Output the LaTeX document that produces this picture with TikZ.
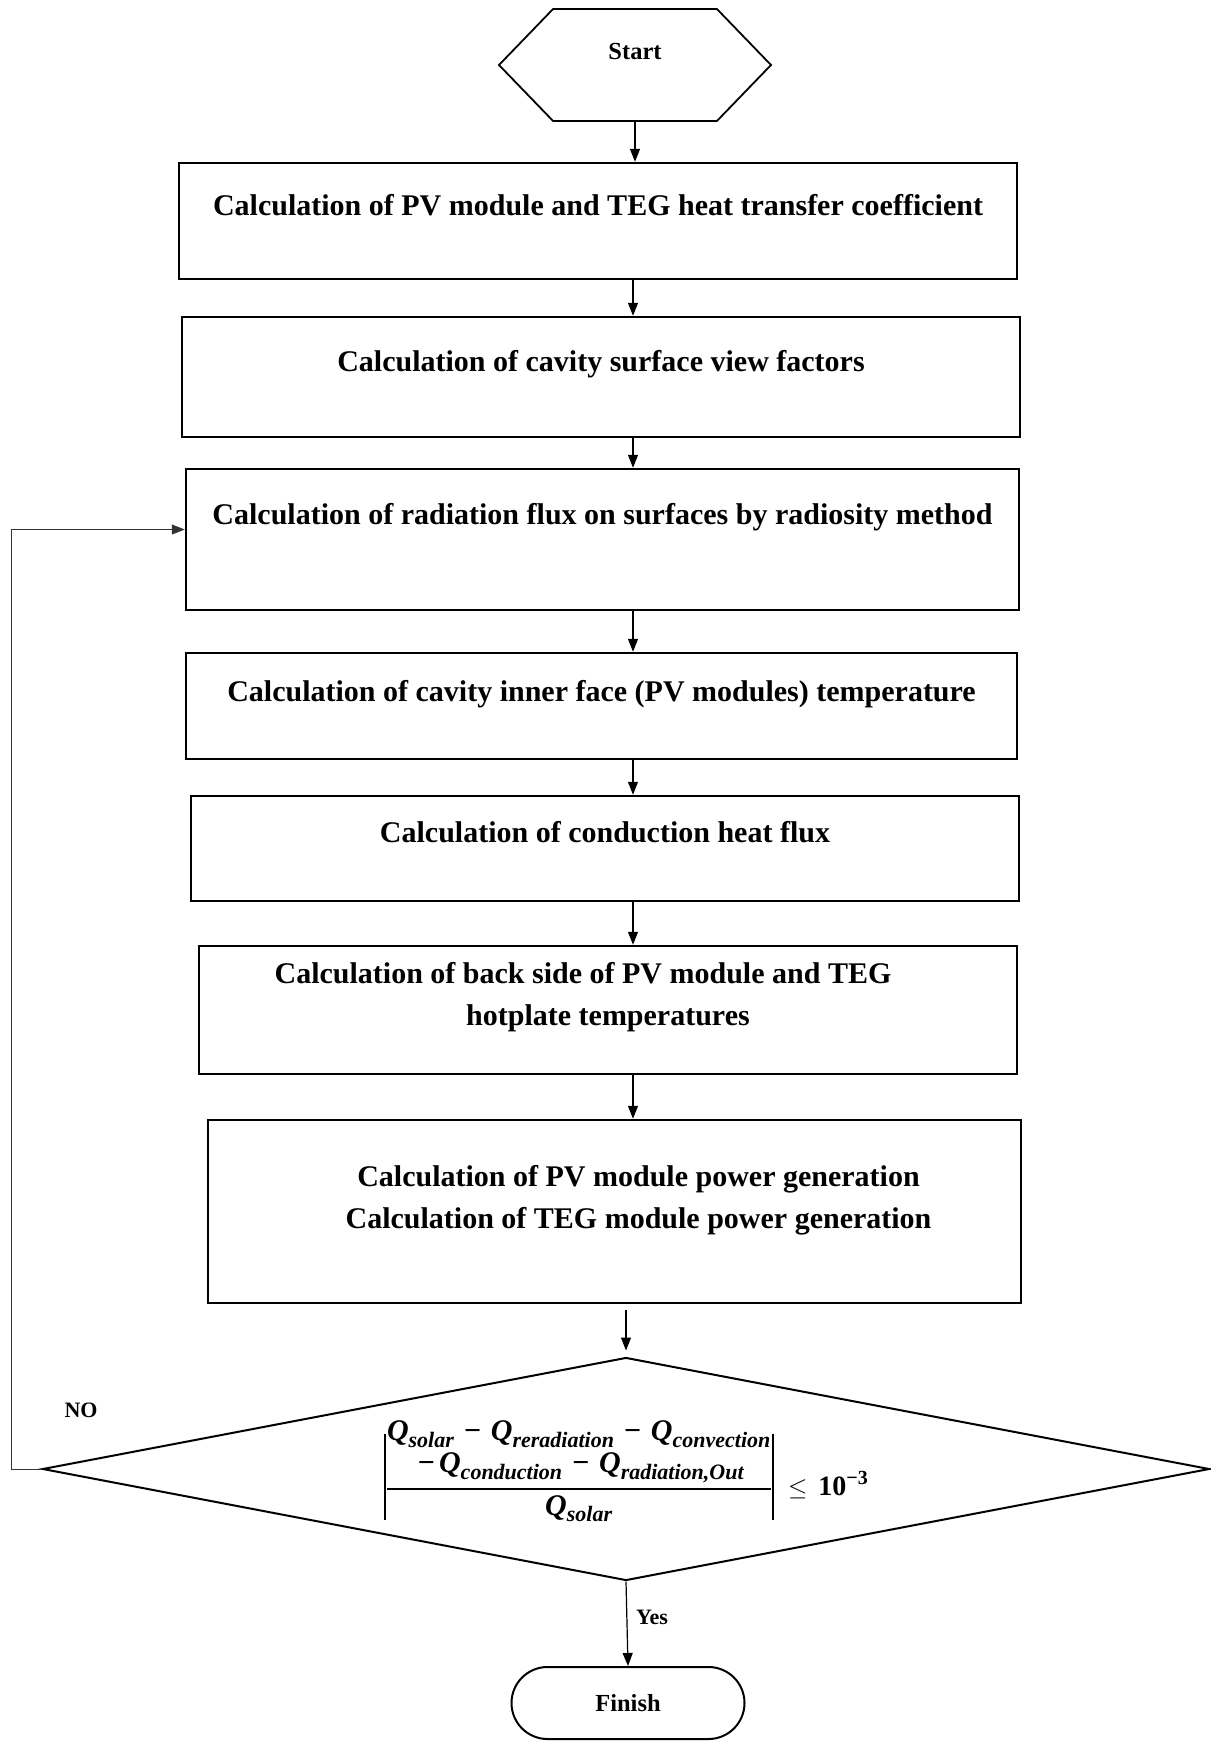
\documentclass[tikz,border=0pt]{standalone}
\usepackage{amsmath}
\usepackage{fontspec}
\setmainfont{Liberation Serif}
\usetikzlibrary{positioning, arrows.meta, shapes.geometric, shapes.symbols, shapes.misc}

\DeclareMathSizes{30}{30}{22}{16}
\newcommand{\bq}[1]{\text{\bfseries\itshape Q}_{\text{\bfseries\itshape #1}}}
\newcommand{\bminus}{\mathbin{\,\text{\bfseries −}\,}}
\newcommand{\absbar}{\rule[-24.5pt]{2.2pt}{86pt}}
\newcommand{\qbalance}{%
  $\absbar\genfrac{}{}{1.8pt}{0}{\begin{array}{@{}c@{}}\bq{solar}\bminus\bq{reradiation}\bminus\bq{convection}\\[-3pt] \bminus\bq{conduction}\bminus\bq{radiation,Out}\end{array}}{\bq{solar}}\absbar\;\le\, \text{\fontsize{28}{32}\selectfont\bfseries 10}^{\text{\fontsize{20}{24}\selectfont\bfseries −3}}$}

\begin{document}
\begin{tikzpicture}[
        x=1pt, y=1pt,
        stepbox/.style={rectangle, draw=black, line width=2.5pt, inner sep=0pt, align=center, font=\fontsize{30}{42}\selectfont\bfseries},
        startbox/.style={signal, signal to=west and east, signal pointer angle=92, draw=black, line width=1.8pt, minimum width=272pt, minimum height=112pt, inner sep=0pt, text height=20pt, text depth=30pt, font=\fontsize{24.5}{29}\selectfont\bfseries},
        finbox/.style={rounded rectangle, draw=black, line width=2pt, minimum width=233pt, minimum height=72pt, inner sep=0pt, font=\fontsize{24.5}{29}\selectfont\bfseries},
        decision/.style={diamond, draw=black, line width=2pt, aspect=5.23, minimum width=1167pt, minimum height=223pt, inner sep=0pt, font=\fontsize{30}{35}\selectfont},
        lbl/.style={inner sep=0pt, font=\fontsize{22}{26}\selectfont\bfseries},
        arr/.style={-{Triangle[length=13pt, width=10pt]}, line width=1.2pt},
        backarr/.style={-{Triangle[length=13pt, width=10pt]}, line width=1pt, black!80},
    ]
        \useasboundingbox (0,0) rectangle (1210,-1742);

        % Start
        \node[startbox] (start) at (635,-65) {Start};

        % Calculation steps
        \node[stepbox, minimum width=838pt, text height=52pt, text depth=64pt] (hcoef) at (598,-221) {Calculation of PV module and TEG heat transfer coefficient};
        \node[stepbox, minimum width=838pt, text height=54pt, text depth=66pt] (view) at (601,-377) {Calculation of cavity surface view factors};
        \node[stepbox, minimum width=833pt, text height=55pt, text depth=86pt] (rad) at (602.5,-539.5) {Calculation of radiation flux on surfaces by radiosity method};
        \node[stepbox, minimum width=831pt, text height=48pt, text depth=58pt] (inner) at (601.5,-706) {Calculation of cavity inner face (PV modules) temperature};
        \node[stepbox, minimum width=828pt, text height=46pt, text depth=59pt] (cond) at (605,-848.5) {Calculation of conduction heat flux};
        \node[stepbox, minimum width=818pt, text height=79pt, text depth=49pt] (back) at (608,-1010) {Calculation of back side of PV module and TEG\hspace*{50pt}\\hotplate temperatures};
        \node[stepbox, minimum width=813pt, text height=108pt, text depth=75pt] (power) at (614.5,-1211.5) {\hspace*{48pt}Calculation of PV module power generation\\\hspace*{48pt}Calculation of TEG module power generation};

        % Convergence check
        \node[decision] (check) at (626,-1469) {\qbalance};

        % Finish
        \node[finbox] (fin) at (628,-1703) {Finish};

        \node[lbl] (yes) at (652,-1617) {Yes};
        \node[lbl] (no) at (81,-1410) {NO};

        % Arrows down the chart
        \coordinate (spine) at (633,0);
        \draw[arr] (start.south) -- (start.south |- hcoef.north);
        \draw[arr] (hcoef.south -| spine) -- (view.north -| spine);
        \draw[arr] (view.south -| spine) -- (rad.north -| spine);
        \draw[arr] (rad.south -| spine) -- (inner.north -| spine);
        \draw[arr] (inner.south -| spine) -- (cond.north -| spine);
        \draw[arr] (cond.south -| spine) -- (back.north -| spine);
        \draw[arr] (back.south -| spine) -- (power.north -| spine);
        \draw[arr] ([yshift=-6pt]power.south -| check.north) -- ([yshift=6pt]check.north);
        \draw[arr] (check.south) -- (fin.north);

        % Loop back
        \draw[backarr] (check.west) -- ++(-30,0) |- ([yshift=10pt]rad.west);
    \end{tikzpicture}
\end{document}
